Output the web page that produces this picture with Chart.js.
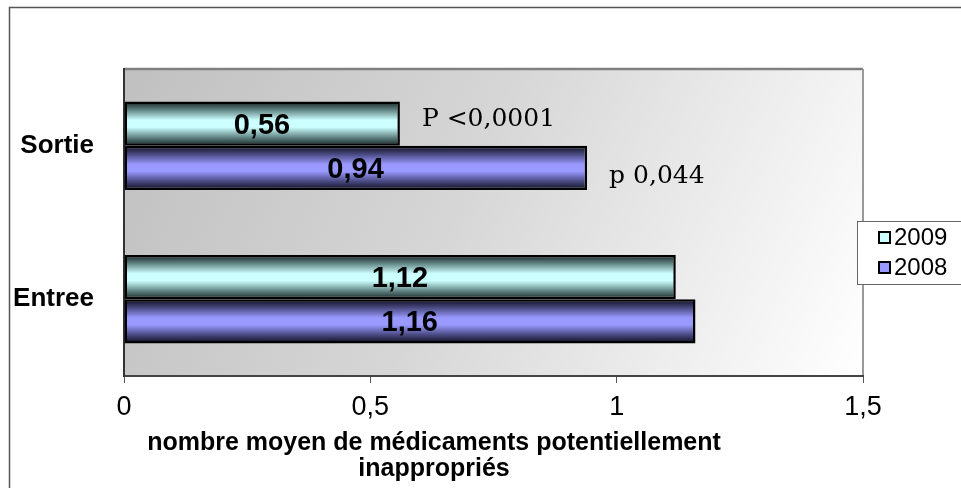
<!DOCTYPE html>
<html lang="fr">
<head>
    <meta charset="UTF-8">
    <title>Médicaments potentiellement inappropriés</title>
    <script src="https://cdn.jsdelivr.net/npm/chart.js"></script>
    <style>
        html, body { margin: 0; padding: 0; background: #fff; }
        #wrap { width: 961px; height: 488px; }
    </style>
</head>
<body>
<div id="wrap"><canvas id="myChart" width="961" height="488"></canvas></div>
<script>
    const categories = ['Sortie', 'Entree'];
    const seriesNames = ['2009', '2008'];
    const values2009 = [0.56, 1.12];
    const values2008 = [0.94, 1.16];
    const xTicks = [0, 0.5, 1, 1.5];
    const pNotes = ['P <0,0001', 'p 0,044'];
    const axisTitle = ['nombre moyen de médicaments potentiellement', 'inappropriés'];

    const fmt = v => String(v).replace('.', ',');

    const colors = [
        {light: '#ccffff', mid: '#5e7f7f', dark: '#142222'},
        {light: '#9999ff', mid: '#45457a', dark: '#0c0c1c'}
    ];

    // vertical gradient for a bar: dark edges, light middle
    function barGradient(ctx, bar, col) {
        const top = bar.y - bar.height / 2;
        const bottom = bar.y + bar.height / 2;
        const g = ctx.createLinearGradient(0, top, 0, bottom);
        g.addColorStop(0, col.dark);
        g.addColorStop(0.18, col.mid);
        g.addColorStop(0.42, col.light);
        g.addColorStop(0.58, col.light);
        g.addColorStop(0.82, col.mid);
        g.addColorStop(1, col.dark);
        return g;
    }

    const decor = {
        id: 'decor',
        beforeDraw(chart) {
            const {ctx, chartArea: a} = chart;
            ctx.save();
            // outer frame
            ctx.strokeStyle = '#555';
            ctx.lineWidth = 1.5;
            ctx.beginPath();
            ctx.moveTo(9.5, 490);
            ctx.lineTo(9.5, 7.5);
            ctx.lineTo(965, 7.5);
            ctx.stroke();
            // plot background
            const g = ctx.createLinearGradient(a.left, a.top, a.right, a.bottom);
            g.addColorStop(0, '#c0c0c0');
            g.addColorStop(0.45, '#d6d6d6');
            g.addColorStop(1, '#ffffff');
            ctx.fillStyle = g;
            ctx.fillRect(a.left, a.top, a.right - a.left, a.bottom - a.top);
            ctx.lineWidth = 2.5;
            ctx.strokeStyle = '#808080';
            ctx.beginPath();
            ctx.moveTo(a.left, a.top);
            ctx.lineTo(a.right, a.top);
            ctx.stroke();
            ctx.strokeStyle = '#999';
            ctx.lineWidth = 2;
            ctx.beginPath();
            ctx.moveTo(a.right, a.top);
            ctx.lineTo(a.right, a.bottom);
            ctx.stroke();
            ctx.restore();
        },
        beforeDatasetsDraw(chart) {
            chart.data.datasets.forEach((ds, di) => {
                chart.getDatasetMeta(di).data.forEach(bar => {
                    bar.options = Object.assign({}, bar.options, {
                        backgroundColor: barGradient(chart.ctx, bar, colors[di])
                    });
                });
            });
        },
        afterDatasetsDraw(chart) {
            const {ctx} = chart;
            const xs = chart.scales.x;
            ctx.save();
            ctx.fillStyle = '#000';
            ctx.textAlign = 'center';
            ctx.textBaseline = 'middle';
            ctx.font = 'bold 29px "Liberation Sans", Arial, sans-serif';
            chart.data.datasets.forEach((ds, di) => {
                chart.getDatasetMeta(di).data.forEach((bar, i) => {
                    const cx = (xs.getPixelForValue(0) + bar.x) / 2;
                    ctx.fillText(fmt(ds.data[i]), cx, bar.y + 2);
                });
            });
            // p-value notes for Sortie
            ctx.font = '25px "DejaVu Serif", "Liberation Serif", serif';
            ctx.textAlign = 'left';
            ctx.textBaseline = 'alphabetic';
            const m0 = chart.getDatasetMeta(0).data[0];
            const m1 = chart.getDatasetMeta(1).data[0];
            ctx.fillText(pNotes[0], m0.x + 22, 126);
            ctx.fillText(pNotes[1], m1.x + 22, 183);
            ctx.restore();
        },
        afterDraw(chart) {
            const {ctx} = chart;
            ctx.save();
            // legend
            ctx.fillStyle = '#fff';
            ctx.fillRect(857, 221, 110, 63);
            ctx.strokeStyle = '#666';
            ctx.lineWidth = 1;
            ctx.strokeRect(857.5, 221.5, 110, 63);
            ctx.font = '24px "Liberation Sans", Arial, sans-serif';
            ctx.textBaseline = 'middle';
            seriesNames.forEach((name, i) => {
                const y = 237 + i * 30;
                ctx.fillStyle = colors[i].light;
                ctx.fillRect(879, y - 5, 11, 11);
                ctx.strokeStyle = '#000';
                ctx.lineWidth = 2;
                ctx.strokeRect(879, y - 5, 11, 11);
                ctx.fillStyle = '#000';
                ctx.fillText(name, 894, y + 1);
            });
            // axis title
            ctx.font = 'bold 25px "Liberation Sans", Arial, sans-serif';
            ctx.textAlign = 'center';
            ctx.fillText(axisTitle[0], 434, 443);
            ctx.fillText(axisTitle[1], 434, 469);
            ctx.restore();
        }
    };

    const ctx = document.getElementById('myChart');
    new Chart(ctx, {
        type: 'bar',
        data: {
            labels: categories,
            datasets: [{
                label: seriesNames[0],
                data: values2009,
                backgroundColor: colors[0].light,
                borderColor: '#000',
                borderWidth: 2.5,
                borderSkipped: false
            }, {
                label: seriesNames[1],
                data: values2008,
                backgroundColor: colors[1].light,
                borderColor: '#000',
                borderWidth: 2.5,
                borderSkipped: false
            }]
        },
        options: {
            indexAxis: 'y',
            responsive: false,
            animation: false,
            layout: {padding: {left: 10, top: 69, right: 98, bottom: 0}},
            datasets: {bar: {categoryPercentage: 0.575, barPercentage: 1}},
            plugins: {legend: {display: false}, tooltip: {enabled: false}},
            scales: {
                x: {
                    min: 0,
                    max: 1.5,
                    afterBuildTicks: s => { s.ticks = xTicks.map(v => ({value: v})); },
                    afterFit: s => { s.height = 112; },
                    grid: {drawOnChartArea: false, tickLength: 7, color: '#555', lineWidth: 1},
                    border: {color: '#444', width: 2},
                    ticks: {
                        color: '#000',
                        padding: 8,
                        font: {family: '"Liberation Sans", Arial, sans-serif', size: 27},
                        callback: v => fmt(v)
                    }
                },
                y: {
                    afterFit: s => { s.width = 114; },
                    grid: {display: false},
                    border: {color: '#333', width: 2},
                    ticks: {
                        color: '#000',
                        padding: 22,
                        font: {family: '"Liberation Sans", Arial, sans-serif', size: 26, weight: 'bold'}
                    }
                }
            }
        },
        plugins: [decor]
    });
</script>
</body>
</html>
